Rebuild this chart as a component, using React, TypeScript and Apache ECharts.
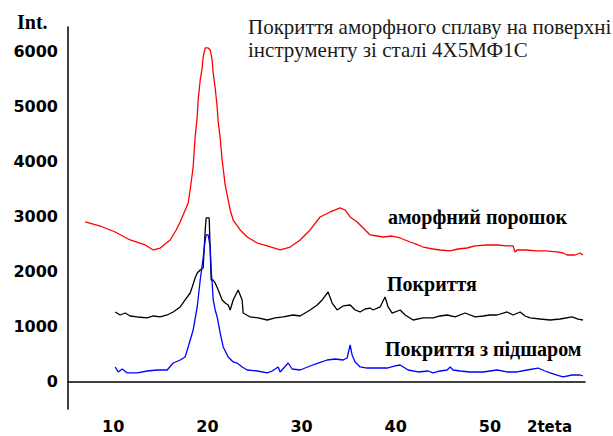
import React, { useEffect, useRef } from "react";
import * as echarts from "echarts";

// 2theta / intensity pairs
const amorphousPowder: [number, number][] = [
  [7.03, 2900], [8.62, 2827], [10.21, 2718], [11.8, 2573], [13.4, 2482], [14.25, 2391],
  [14.99, 2427], [16.05, 2573], [16.69, 2755], [17.11, 2900], [17.96, 3245], [18.17, 3482],
  [18.49, 3900], [18.7, 4445], [18.92, 4809], [19.02, 5118], [19.24, 5482], [19.45, 5700],
  [19.55, 5900], [19.77, 6064], [20.08, 6064], [20.3, 6027], [20.51, 5845], [20.62, 5609],
  [20.83, 5336], [21.04, 4991], [21.15, 4718], [21.36, 4427], [21.57, 4027], [21.89, 3573],
  [22.21, 3300], [22.42, 3118], [22.74, 2936], [23.48, 2755], [24.23, 2627], [25.29, 2518],
  [26.35, 2464], [27.73, 2391], [28.79, 2445], [29.85, 2573], [30.91, 2755], [31.97, 2991],
  [33.04, 3082], [34.1, 3155], [34.63, 3118], [35.16, 2991], [35.9, 2900], [36.54, 2791],
  [37.28, 2664], [38.03, 2645], [38.66, 2627], [39.62, 2645], [40.47, 2609], [41.53, 2536],
  [42.38, 2482], [42.91, 2445], [43.97, 2409], [44.71, 2391], [45.78, 2373], [46.62, 2409],
  [47.58, 2427], [48.43, 2464], [49.7, 2482], [50.76, 2482], [51.83, 2464], [52.46, 2464],
  [52.68, 2355], [52.89, 2391], [53.74, 2391], [55.01, 2373], [55.86, 2373], [57.13, 2355],
  [57.77, 2336], [58.2, 2300], [59.04, 2300], [59.58, 2336], [59.89, 2300],
];

const coating: [number, number][] = [
  [10.21, 1264], [10.74, 1209], [11.27, 1245], [11.8, 1191], [12.55, 1173], [13.61, 1155],
  [14.25, 1191], [14.99, 1173], [15.73, 1209], [16.37, 1264], [17.11, 1355], [17.64, 1482],
  [18.17, 1609], [18.39, 1718], [18.7, 1882], [18.92, 1973], [19.24, 2027], [19.55, 2064],
  [19.77, 2755], [19.87, 2973], [20.19, 2973], [20.3, 2391], [20.4, 1845], [20.62, 1845],
  [20.83, 1791], [21.15, 1664], [21.57, 1482], [21.89, 1427], [22.21, 1391], [22.42, 1300],
  [22.74, 1482], [23.27, 1664], [23.69, 1482], [23.8, 1245], [24.54, 1173], [25.39, 1155],
  [26.35, 1118], [27.2, 1155], [28.05, 1173], [29.11, 1209], [29.85, 1191], [30.91, 1300],
  [31.66, 1391], [32.19, 1482], [32.82, 1627], [33.25, 1427], [33.78, 1300], [34.42, 1373],
  [35.16, 1391], [35.69, 1300], [36.22, 1264], [36.75, 1318], [37.28, 1336], [37.6, 1300],
  [38.34, 1355], [38.87, 1536], [39.19, 1355], [39.62, 1245], [40.47, 1300], [41.0, 1209],
  [41.85, 1118], [42.91, 1155], [43.97, 1155], [44.71, 1191], [45.46, 1209], [46.3, 1173],
  [47.37, 1245], [48.43, 1173], [49.28, 1191], [50.02, 1209], [50.76, 1209], [51.83, 1264],
  [52.46, 1209], [53.21, 1264], [53.74, 1191], [54.27, 1155], [55.33, 1136], [56.39, 1118],
  [57.45, 1136], [58.73, 1173], [59.36, 1136], [59.89, 1118],
];

const coatingSublayer: [number, number][] = [
  [10.21, 264], [10.53, 173], [10.96, 227], [11.49, 155], [12.55, 155], [13.61, 191],
  [14.67, 209], [15.73, 209], [16.37, 336], [17.11, 391], [17.64, 445], [17.96, 627],
  [18.49, 936], [18.92, 1355], [19.24, 1845], [19.55, 2245], [19.77, 2573], [19.87, 2664],
  [20.08, 2664], [20.3, 2445], [20.4, 2027], [20.51, 1791], [20.62, 1482], [20.83, 1300],
  [21.04, 1173], [21.36, 882], [21.68, 627], [22.21, 445], [22.74, 355], [23.16, 336],
  [23.69, 264], [24.23, 209], [25.29, 191], [26.35, 155], [26.88, 191], [27.52, 264],
  [27.73, 173], [28.58, 336], [29.0, 227], [29.85, 209], [30.91, 282], [31.76, 336],
  [32.72, 391], [33.57, 409], [34.42, 391], [34.84, 427], [35.16, 664], [35.37, 482],
  [35.69, 355], [36.22, 264], [36.96, 245], [38.03, 245], [39.09, 245], [39.94, 282],
  [40.47, 300], [41.32, 209], [42.38, 173], [43.44, 191], [43.97, 155], [44.71, 191],
  [45.46, 209], [45.78, 264], [46.09, 209], [46.84, 191], [47.9, 173], [49.28, 173],
  [50.02, 191], [50.76, 209], [51.83, 173], [52.89, 173], [53.96, 209], [55.12, 245],
  [55.86, 191], [56.39, 155], [57.13, 118], [57.77, 82], [58.73, 118], [59.58, 118],
  [59.89, 100],
];

const xTickValues = [10, 20, 30, 40, 50];
const yTickValues = [0, 1000, 2000, 3000, 4000, 5000, 6000];

const titleLines = ["Покриття аморфного сплаву на поверхні", "інструменту зі сталі 4Х5МФ1С"];
const seriesNames = ["аморфний порошок", "Покриття", "Покриття з підшаром"];

export default function App() {
  const ref = useRef<HTMLDivElement>(null);
  useEffect(() => {
    if (!ref.current) return;
    const chart = echarts.init(ref.current, null, { renderer: "svg" });
    const labelFont = {
      fontFamily: "DejaVu Sans",
      fontWeight: "bold" as const,
      fontSize: 16,
      color: "#000",
    };
    const serifBold = {
      fontFamily: "Liberation Serif",
      fontWeight: "bold" as const,
      fill: "#000",
    };
    chart.setOption({
      animation: false,
      backgroundColor: "#fff",
      grid: { left: 68, right: 28, top: 27, bottom: 27 },
      xAxis: {
        type: "value",
        min: 5.2,
        max: 60.1,
        axisLine: { show: true, lineStyle: { color: "#000", width: 1.5 } },
        axisTick: { show: false },
        splitLine: { show: false },
        axisLabel: {
          ...labelFont,
          margin: 9,
          customValues: xTickValues,
          formatter: (v: number) => String(v),
        },
      },
      yAxis: {
        type: "value",
        min: -500,
        max: 6445,
        axisLine: { show: true, lineStyle: { color: "#000", width: 1.5 } },
        axisTick: { show: false },
        splitLine: { show: false },
        axisLabel: {
          ...labelFont,
          margin: 10,
          customValues: yTickValues,
          formatter: (v: number) => String(v),
        },
      },
      series: [
        {
          name: seriesNames[0],
          type: "line",
          data: amorphousPowder,
          showSymbol: false,
          lineStyle: { color: "#ff0000", width: 1.3 },
          itemStyle: { color: "#ff0000" },
        },
        {
          name: seriesNames[1],
          type: "line",
          data: coating,
          showSymbol: false,
          lineStyle: { color: "#000000", width: 1.3 },
          itemStyle: { color: "#000000" },
        },
        {
          name: seriesNames[2],
          type: "line",
          data: coatingSublayer,
          showSymbol: false,
          lineStyle: { color: "#0000ff", width: 1.3 },
          itemStyle: { color: "#0000ff" },
        },
      ],
      graphic: [
        {
          type: "text",
          left: 17,
          top: 12,
          style: { ...serifBold, text: "Int.", fontSize: 20 },
        },
        {
          type: "text",
          left: 527,
          top: 419,
          style: {
            text: "2teta",
            fontFamily: "DejaVu Sans",
            fontWeight: "bold",
            fontSize: 15,
            fill: "#000",
          },
        },
        {
          type: "text",
          left: 248,
          top: 15,
          style: {
            text: titleLines.join("\n"),
            fontFamily: "Liberation Serif",
            fontSize: 21,
            lineHeight: 23,
            fill: "#1a1a1a",
          },
        },
        {
          type: "text",
          left: 388,
          top: 207,
          style: { ...serifBold, text: seriesNames[0], fontSize: 20 },
        },
        {
          type: "text",
          left: 387,
          top: 274,
          style: { ...serifBold, text: seriesNames[1], fontSize: 20 },
        },
        {
          type: "text",
          left: 385,
          top: 339,
          style: { ...serifBold, text: seriesNames[2], fontSize: 20 },
        },
      ],
    });
    return () => chart.dispose();
  }, []);
  return (
    <div
      ref={ref}
      style={{ position: "fixed", left: 0, top: 0, width: 613, height: 436 }}
    />
  );
}
